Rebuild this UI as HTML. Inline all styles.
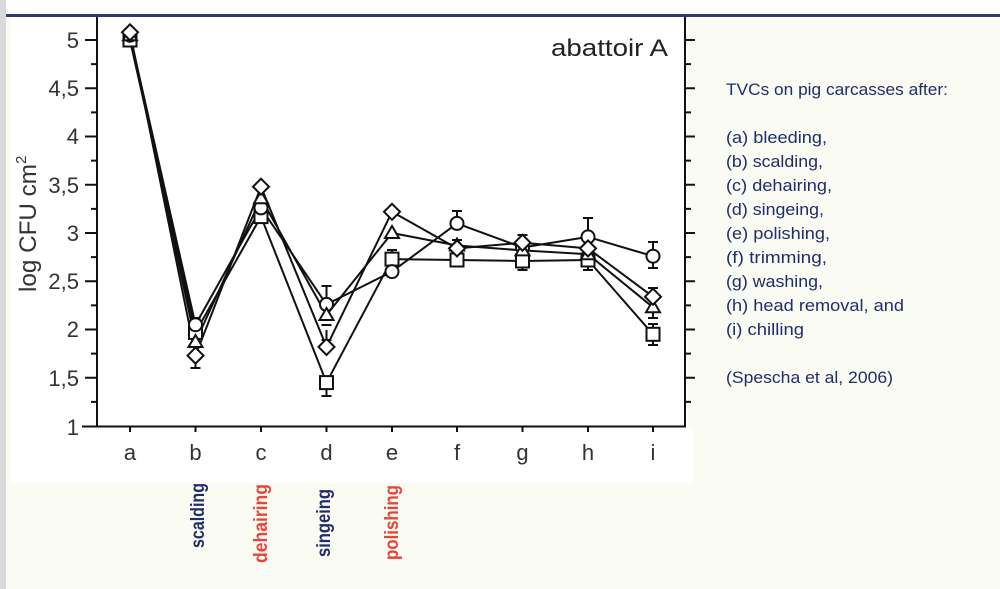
<!DOCTYPE html>
<html><head><meta charset="utf-8"><style>
html,body{margin:0;padding:0;width:1000px;height:589px;overflow:hidden;background:#fafbf3;}
svg{display:block;}
</style></head><body>
<svg width="1000" height="589" viewBox="0 0 1000 589" xmlns="http://www.w3.org/2000/svg">
<rect x="0" y="0" width="1000" height="589" fill="#fafbf3"/>
<rect x="0" y="0" width="6" height="589" fill="#d9d9d9"/>
<rect x="6" y="0" width="994" height="14" fill="#ffffff"/>
<rect x="6" y="14" width="994" height="3" fill="#2c3b7a"/>
<rect x="11" y="17" width="677" height="466" fill="#ffffff"/>
<rect x="688" y="428" width="5" height="55" fill="#ffffff"/>

<g stroke="#111" stroke-width="2" fill="none">
<line x1="97" y1="17" x2="97" y2="427"/>
<line x1="685" y1="17" x2="685" y2="427"/>
<line x1="82" y1="426.5" x2="686" y2="426.5"/>
<path d="M85 40H97M85 88.3H97M85 136.5H97M85 184.8H97M85 233H97M85 281.3H97M85 329.5H97M85 377.8H97"/>
<path d="M91 64.1H97M91 112.4H97M91 160.6H97M91 208.9H97M91 257.1H97M91 305.4H97M91 353.6H97M91 401.9H97"/>
<path d="M685 40H695M685 88.3H695M685 136.5H695M685 184.8H695M685 233H695M685 281.3H695M685 329.5H695M685 377.8H695"/>
<path d="M685 64.1H691M685 112.4H691M685 160.6H691M685 208.9H691M685 257.1H691M685 305.4H691M685 353.6H691M685 401.9H691"/>
<path d="M130 427V432M195.5 427V432M261 427V432M326.5 427V432M392 427V432M457 427V432M522.5 427V432M588 427V432M653 427V432"/>
</g>

<g font-family="Liberation Sans, Arial, sans-serif" font-size="22" fill="#333" text-anchor="end">
<text x="79" y="48">5</text>
<text x="79" y="96">4,5</text>
<text x="79" y="144">4</text>
<text x="79" y="193">3,5</text>
<text x="79" y="241">3</text>
<text x="79" y="289">2,5</text>
<text x="79" y="337">2</text>
<text x="79" y="386">1,5</text>
<text x="79" y="435">1</text>
</g>
<g font-family="Liberation Sans, Arial, sans-serif" font-size="22" fill="#333" text-anchor="middle">
<text x="130" y="460">a</text>
<text x="195.5" y="460">b</text>
<text x="261" y="460">c</text>
<text x="326.5" y="460">d</text>
<text x="392" y="460">e</text>
<text x="457" y="460">f</text>
<text x="522.5" y="460">g</text>
<text x="588" y="460">h</text>
<text x="653" y="460">i</text>
</g>
<text x="551" y="56" font-family="Liberation Sans, Arial, sans-serif" font-size="24" fill="#222" textLength="117" lengthAdjust="spacingAndGlyphs">abattoir A</text>
<text transform="translate(36,292) rotate(-90)" font-family="Liberation Sans, Arial, sans-serif" font-size="24" fill="#333"><tspan textLength="128" lengthAdjust="spacingAndGlyphs">log CFU cm</tspan><tspan font-size="15" dy="-10">2</tspan></text>

<g stroke="#111" stroke-width="2" fill="none" stroke-linejoin="round">
<polyline points="130,35.2 195.5,324.7 261,207.9 326.5,304.4 392,271.6 457,223.4 522.5,247.5 588,236.9 653,256.2"/>
<polyline points="130,40 195.5,332.4 261,216.6 326.5,382.6 392,259.1 457,260 522.5,261 588,260 653,334.3"/>
<polyline points="130,35.2 195.5,342 261,198.3 326.5,315 392,233 457,245.5 522.5,250.4 588,254.2 653,307.3"/>
<polyline points="130,32.3 195.5,355.6 261,186.7 326.5,346.9 392,211.8 457,248.4 522.5,242.7 588,248.4 653,296.7"/>
</g>
<g stroke="#111" stroke-width="2" fill="none">
<path d="M326.5 304V286M321.5 286H331.5"/>
<path d="M326.5 383V396M321.5 396H331.5"/>
<path d="M326.5 330V340M321.5 340H331.5M321.5 325H331.5"/>
<path d="M195.5 356V368M190.5 368H200.5"/>
<path d="M195.5 320V330M190.5 318H200.5"/>
<path d="M457 223V211M452 211H462M452 240H462M452 246H462M457 255V266M452 266H462"/>
<path d="M588 237V218M583 218H593M588 260V270M583 270H593"/>
<path d="M522.5 243V235M517.5 235H527.5M522.5 261V270M517.5 270H527.5"/>
<path d="M653 256V242M648 242H658M653 256V268M648 268H658"/>
<path d="M653 296V288M648 288H658M653 307V318M648 318H658"/>
<path d="M653 334V324M648 324H658M653 334V345M648 345H658"/>
<path d="M392 259V250M387 250H397"/>
</g>
<g stroke="#111" stroke-width="2" fill="#fff">
<rect x="123.5" y="33.5" width="13" height="13"/>
<rect x="189" y="325.9" width="13" height="13"/>
<rect x="254.5" y="210.1" width="13" height="13"/>
<rect x="320" y="376.1" width="13" height="13"/>
<rect x="385.5" y="252.6" width="13" height="13"/>
<rect x="450.5" y="253.5" width="13" height="13"/>
<rect x="516" y="254.5" width="13" height="13"/>
<rect x="581.5" y="253.5" width="13" height="13"/>
<rect x="646.5" y="327.8" width="13" height="13"/>
<circle cx="130" cy="35.2" r="6.5"/>
<circle cx="195.5" cy="324.7" r="6.5"/>
<circle cx="261" cy="207.9" r="6.5"/>
<circle cx="326.5" cy="304.4" r="6.5"/>
<circle cx="392" cy="271.6" r="6.5"/>
<circle cx="457" cy="223.4" r="6.5"/>
<circle cx="522.5" cy="247.5" r="6.5"/>
<circle cx="588" cy="236.9" r="6.5"/>
<circle cx="653" cy="256.2" r="6.5"/>
<polygon points="130,28.2 137,40.2 123,40.2"/>
<polygon points="195.5,335 202.5,347 188.5,347"/>
<polygon points="261,191.3 268,203.3 254,203.3"/>
<polygon points="326.5,308 333.5,320 319.5,320"/>
<polygon points="392,226 399,238 385,238"/>
<polygon points="457,238.5 464,250.5 450,250.5"/>
<polygon points="522.5,243.4 529.5,255.4 515.5,255.4"/>
<polygon points="588,247.2 595,259.2 581,259.2"/>
<polygon points="653,300.3 660,312.3 646,312.3"/>
<polygon points="130,24.3 138,32.3 130,40.3 122,32.3"/>
<polygon points="195.5,347.6 203.5,355.6 195.5,363.6 187.5,355.6"/>
<polygon points="261,178.7 269,186.7 261,194.7 253,186.7"/>
<polygon points="326.5,338.9 334.5,346.9 326.5,354.9 318.5,346.9"/>
<polygon points="392,203.8 400,211.8 392,219.8 384,211.8"/>
<polygon points="457,240.4 465,248.4 457,256.4 449,248.4"/>
<polygon points="522.5,234.7 530.5,242.7 522.5,250.7 514.5,242.7"/>
<polygon points="588,240.4 596,248.4 588,256.4 580,248.4"/>
<polygon points="653,288.7 661,296.7 653,304.7 645,296.7"/>
</g>

<g font-family="Liberation Sans, Arial, sans-serif" font-size="17" fill="#1f2d6b">
<text x="726" y="95" textLength="222" lengthAdjust="spacingAndGlyphs">TVCs on pig carcasses after:</text>
<text x="726" y="143" textLength="101" lengthAdjust="spacingAndGlyphs">(a) bleeding,</text>
<text x="726" y="167" textLength="97" lengthAdjust="spacingAndGlyphs">(b) scalding,</text>
<text x="726" y="191" textLength="106" lengthAdjust="spacingAndGlyphs">(c) dehairing,</text>
<text x="726" y="215" textLength="98" lengthAdjust="spacingAndGlyphs">(d) singeing,</text>
<text x="726" y="239" textLength="104" lengthAdjust="spacingAndGlyphs">(e) polishing,</text>
<text x="726" y="263" textLength="101" lengthAdjust="spacingAndGlyphs">(f) trimming,</text>
<text x="726" y="287" textLength="97" lengthAdjust="spacingAndGlyphs">(g) washing,</text>
<text x="726" y="311" textLength="178" lengthAdjust="spacingAndGlyphs">(h) head removal, and</text>
<text x="726" y="335" textLength="78" lengthAdjust="spacingAndGlyphs">(i) chilling</text>
<text x="726" y="383" textLength="167" lengthAdjust="spacingAndGlyphs">(Spescha et al, 2006)</text>
</g>

<g font-family="Liberation Sans, Arial, sans-serif" font-size="19" font-weight="bold">
<text transform="translate(204,548) rotate(-90)" fill="#1f2d6b" textLength="65" lengthAdjust="spacingAndGlyphs">scalding</text>
<text transform="translate(267,563) rotate(-90)" fill="#e8443a" textLength="79" lengthAdjust="spacingAndGlyphs">dehairing</text>
<text transform="translate(330,557) rotate(-90)" fill="#1f2d6b" textLength="68" lengthAdjust="spacingAndGlyphs">singeing</text>
<text transform="translate(398,560) rotate(-90)" fill="#e8443a" textLength="75" lengthAdjust="spacingAndGlyphs">polishing</text>
</g>
</svg>
</body></html>
